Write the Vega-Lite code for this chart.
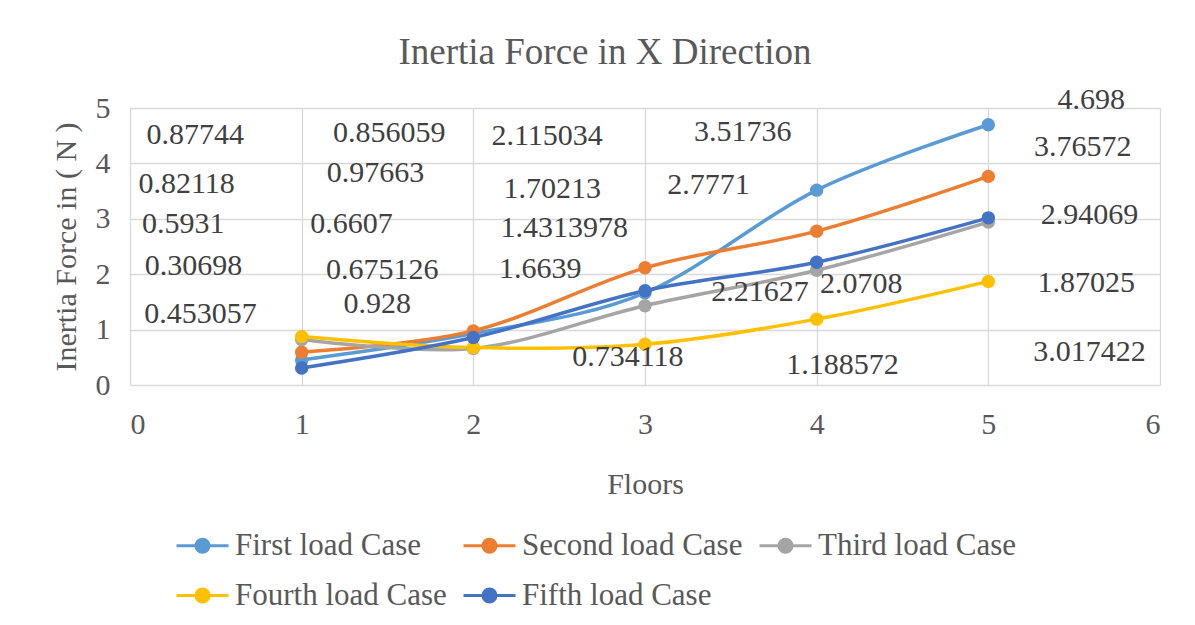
{
  "$schema": "https://vega.github.io/schema/vega-lite/v6.json",
  "width": 1030,
  "height": 277,
  "autosize": "none",
  "padding": {"left": 130, "top": 108, "right": 35, "bottom": 240},
  "background": "white",
  "title": {"text": "Inertia Force in X Direction", "font": "Liberation Serif", "fontSize": 37, "fontWeight": "normal", "color": "#595959", "offset": 13, "anchor": "middle", "dx": -40},
  "datasets": {
    "series": [
      {"floor": 1, "force": 0.453057, "case": "First load Case"},
      {"floor": 2, "force": 0.928, "case": "First load Case"},
      {"floor": 3, "force": 1.6639, "case": "First load Case"},
      {"floor": 4, "force": 3.51736, "case": "First load Case"},
      {"floor": 5, "force": 4.698, "case": "First load Case"},
      {"floor": 1, "force": 0.5931, "case": "Second load Case"},
      {"floor": 2, "force": 0.97663, "case": "Second load Case"},
      {"floor": 3, "force": 2.115034, "case": "Second load Case"},
      {"floor": 4, "force": 2.7771, "case": "Second load Case"},
      {"floor": 5, "force": 3.76572, "case": "Second load Case"},
      {"floor": 1, "force": 0.82118, "case": "Third load Case"},
      {"floor": 2, "force": 0.6607, "case": "Third load Case"},
      {"floor": 3, "force": 1.4313978, "case": "Third load Case"},
      {"floor": 4, "force": 2.0708, "case": "Third load Case"},
      {"floor": 5, "force": 2.94069, "case": "Third load Case"},
      {"floor": 1, "force": 0.87744, "case": "Fourth load Case"},
      {"floor": 2, "force": 0.675126, "case": "Fourth load Case"},
      {"floor": 3, "force": 0.734118, "case": "Fourth load Case"},
      {"floor": 4, "force": 1.188572, "case": "Fourth load Case"},
      {"floor": 5, "force": 1.87025, "case": "Fourth load Case"},
      {"floor": 1, "force": 0.30698, "case": "Fifth load Case"},
      {"floor": 2, "force": 0.856059, "case": "Fifth load Case"},
      {"floor": 3, "force": 1.70213, "case": "Fifth load Case"},
      {"floor": 4, "force": 2.21627, "case": "Fifth load Case"},
      {"floor": 5, "force": 3.017422, "case": "Fifth load Case"}
    ],
    "labels": [
      {"label": "0.87744", "labelFloor": 0.38, "labelForce": 4.51},
      {"label": "0.82118", "labelFloor": 0.33, "labelForce": 3.63},
      {"label": "0.5931", "labelFloor": 0.31, "labelForce": 2.91},
      {"label": "0.30698", "labelFloor": 0.37, "labelForce": 2.15},
      {"label": "0.453057", "labelFloor": 0.41, "labelForce": 1.28},
      {"label": "0.856059", "labelFloor": 1.51, "labelForce": 4.55},
      {"label": "0.97663", "labelFloor": 1.43, "labelForce": 3.83},
      {"label": "0.6607", "labelFloor": 1.29, "labelForce": 2.91},
      {"label": "0.675126", "labelFloor": 1.47, "labelForce": 2.08},
      {"label": "0.928", "labelFloor": 1.44, "labelForce": 1.46},
      {"label": "2.115034", "labelFloor": 2.43, "labelForce": 4.49},
      {"label": "1.70213", "labelFloor": 2.46, "labelForce": 3.54},
      {"label": "1.4313978", "labelFloor": 2.53, "labelForce": 2.83},
      {"label": "1.6639", "labelFloor": 2.39, "labelForce": 2.09},
      {"label": "0.734118", "labelFloor": 2.9, "labelForce": 0.51},
      {"label": "3.51736", "labelFloor": 3.57, "labelForce": 4.57},
      {"label": "2.7771", "labelFloor": 3.37, "labelForce": 3.61},
      {"label": "2.21627", "labelFloor": 3.67, "labelForce": 1.68},
      {"label": "2.0708", "labelFloor": 4.26, "labelForce": 1.82},
      {"label": "1.188572", "labelFloor": 4.15, "labelForce": 0.36},
      {"label": "4.698", "labelFloor": 5.6, "labelForce": 5.14},
      {"label": "3.76572", "labelFloor": 5.55, "labelForce": 4.3},
      {"label": "2.94069", "labelFloor": 5.59, "labelForce": 3.07},
      {"label": "1.87025", "labelFloor": 5.57, "labelForce": 1.84},
      {"label": "3.017422", "labelFloor": 5.59, "labelForce": 0.6}
    ]
  },
  "layer": [
    {
      "data": {"name": "series"},
      "mark": {"type": "line", "interpolate": "cardinal", "strokeWidth": 3.5},
      "encoding": {
        "x": {"field": "floor", "type": "quantitative", "scale": {"domain": [0, 6], "nice": false}, "axis": {"values": [0, 1, 2, 3, 4, 5, 6], "format": "d", "title": "Floors"}},
        "y": {"field": "force", "type": "quantitative", "scale": {"domain": [0, 5], "nice": false}, "axis": {"values": [0, 1, 2, 3, 4, 5], "format": "d", "title": "Inertia Force in ( N )"}},
        "color": {
          "field": "case", "type": "nominal",
          "scale": {"domain": ["First load Case", "Second load Case", "Third load Case", "Fourth load Case", "Fifth load Case"], "range": ["#5B9BD5", "#ED7D31", "#A5A5A5", "#FFC000", "#4472C4"]},
          "legend": {
            "orient": "none", "legendX": 45, "legendY": 410, "direction": "horizontal", "columns": 3, "title": null,
            "symbolType": "M-1,0L1,0M-0.25,0A0.25,0.25,0,1,1,0.25,0A0.25,0.25,0,1,1,-0.25,0Z",
            "symbolSize": 2704, "symbolStrokeWidth": 3,
            "labelFont": "Liberation Serif", "labelFontSize": 31, "labelColor": "#595959", "labelLimit": 400, "labelOffset": 5,
            "rowPadding": 7, "columnPadding": 10,
            "encode": {"symbols": {"update": {"fill": {"scale": "color", "field": "value"}, "stroke": {"scale": "color", "field": "value"}, "strokeWidth": {"value": 3}, "opacity": {"value": 1}}}}
          }
        }
      }
    },
    {
      "data": {"name": "series"},
      "mark": {"type": "point", "shape": "circle", "filled": true, "size": 180, "opacity": 1},
      "encoding": {
        "x": {"field": "floor", "type": "quantitative"},
        "y": {"field": "force", "type": "quantitative"},
        "color": {"field": "case", "type": "nominal"}
      }
    },
    {
      "data": {"name": "labels"},
      "mark": {"type": "text", "font": "Liberation Serif", "fontSize": 30, "color": "#404040", "align": "center", "baseline": "middle"},
      "encoding": {
        "x": {"field": "labelFloor", "type": "quantitative"},
        "y": {"field": "labelForce", "type": "quantitative"},
        "text": {"field": "label", "type": "nominal"}
      }
    }
  ],
  "config": {
    "view": {"stroke": null},
    "axis": {
      "grid": true, "gridColor": "#D9D9D9", "gridWidth": 1.3, "domain": false, "ticks": false,
      "labelFont": "Liberation Serif", "labelFontSize": 30, "labelColor": "#595959",
      "titleFont": "Liberation Serif", "titleFontSize": 30, "titleFontWeight": "normal", "titleColor": "#595959"
    },
    "axisX": {"labelPadding": 24, "titlePadding": 30},
    "axisY": {"labelPadding": 20, "titlePadding": 14}
  }
}
